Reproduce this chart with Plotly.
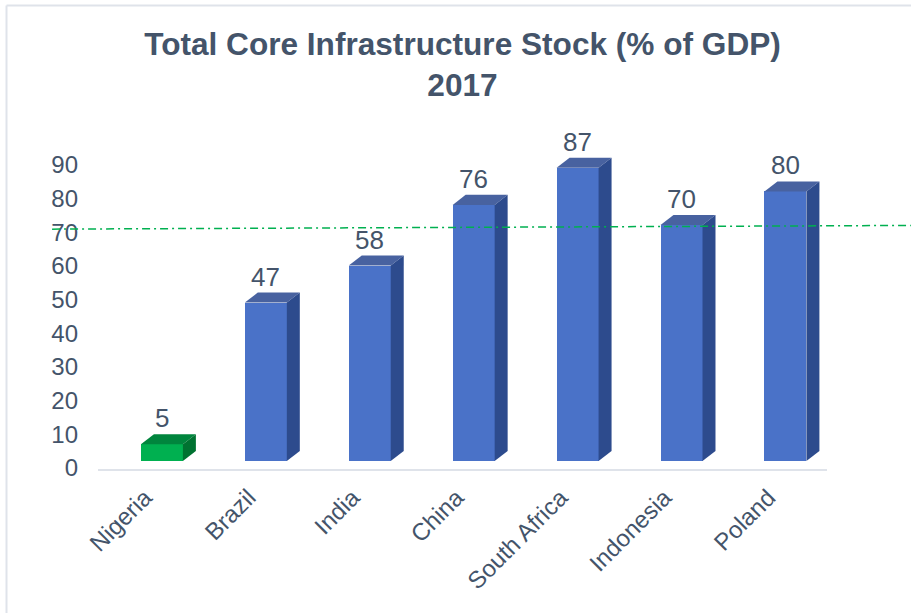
import plotly.graph_objects as go

# ---- data ----
categories = ["Nigeria", "Brazil", "India", "China", "South Africa", "Indonesia", "Poland"]
values = [5, 47, 58, 76, 87, 70, 80]
highlighted = ["Nigeria"]
benchmark_ends = [68.8, 69.9]          # dash-dot benchmark line (left end, right end)
y_ticks = [0, 10, 20, 30, 40, 50, 60, 70, 80, 90]
title_text = "Total Core Infrastructure Stock (% of GDP)<br>2017"

# ---- styling ----
FONT = "Arial, Liberation Sans, sans-serif"
TXT = "#44546a"
FRONT = {"blue": "#4a72c8", "green": "#00b050"}
TOP = {"blue": "#4862a0", "green": "#00853d"}
SIDE = {"blue": "#2d4b8d", "green": "#007231"}
BAR_W = 0.404      # front face width (category units)
DX = 0.125         # 3-D depth, x (category units)
DY = 2.97          # 3-D depth, y (value units)

xs = list(range(len(categories)))
kinds = ["green" if c in highlighted else "blue" for c in categories]

fig = go.Figure()
fig.add_trace(go.Bar(
    x=xs, y=values, width=BAR_W,
    marker=dict(color=[FRONT[k] for k in kinds], line=dict(width=0)),
    hoverinfo="skip", showlegend=False,
))

shapes = []
for x, v, k in zip(xs, values, kinds):
    l, r = x - BAR_W / 2, x + BAR_W / 2
    # top face
    shapes.append(dict(type="path", xref="x", yref="y", layer="above",
                       path=f"M{l},{v} L{l+DX},{v+DY} L{r+DX},{v+DY} L{r},{v} Z",
                       fillcolor=TOP[k], line=dict(width=0)))
    # side face
    shapes.append(dict(type="path", xref="x", yref="y", layer="above",
                       path=f"M{r},0 L{r+DX},{DY} L{r+DX},{v+DY} L{r},{v} Z",
                       fillcolor=SIDE[k], line=dict(width=0)))

# benchmark dash-dot line
shapes.append(dict(type="line", xref="paper", yref="y", layer="above",
                   x0=-0.063, x1=1.115, y0=benchmark_ends[0], y1=benchmark_ends[1],
                   line=dict(color="#00b050", width=1.5, dash="8px,4px,2px,4px")))
# chart-area border (top and left visible)
shapes.append(dict(type="line", xref="paper", yref="paper", layer="above",
                   x0=-0.1255, x1=1.3, y0=1.367, y1=1.367,
                   line=dict(color="#dfe3ea", width=2)))
shapes.append(dict(type="line", xref="paper", yref="paper", layer="above",
                   x0=-0.1255, x1=-0.1255, y0=1.367, y1=-0.5,
                   line=dict(color="#dfe3ea", width=2)))

annotations = []
for x, v in zip(xs, values):
    annotations.append(dict(x=x, y=v + DY, xref="x", yref="y", text=str(v),
                            showarrow=False, yanchor="bottom", yshift=-1,
                            font=dict(family=FONT, size=26, color=TXT)))

fig.update_layout(
    width=911, height=613,
    margin=dict(l=98, r=84, t=130, b=144),
    paper_bgcolor="white", plot_bgcolor="white",
    title=dict(text=title_text, x=0.5, xref="paper", xanchor="center",
               y=1 - 55 / 613, yref="container", yanchor="top",
               font=dict(family=FONT, size=31.6, color=TXT, weight="bold")),
    xaxis=dict(range=[-0.615, 6.40], tickvals=xs, ticktext=categories,
               tickangle=-45, showgrid=False, zeroline=False,
               showline=True, linecolor="#dfe3ea", linewidth=2,
               ticks="", ticklabelshift=-17, ticklabelstandoff=3,
               tickfont=dict(family=FONT, size=24, color=TXT)),
    yaxis=dict(range=[-2.374, 98.22], tickvals=y_ticks, showgrid=False,
               zeroline=False, showline=False, ticks="",
               ticklabelshift=7, ticklabelstandoff=19,
               tickfont=dict(family=FONT, size=24, color=TXT)),
    shapes=shapes, annotations=annotations,
    bargap=0,
)

fig.write_html("out.html", config={"displayModeBar": False},
               post_script="document.body.style.margin='0';")
